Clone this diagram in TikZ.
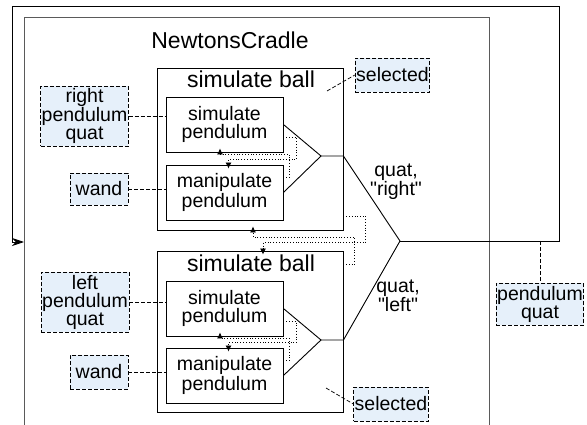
\documentclass[tikz,border=0pt]{standalone}
\usepackage{fontspec}
\setmainfont{Liberation Sans}[Ligatures=TeXOff]
\usetikzlibrary{arrows.meta,calc}
\definecolor{softfill}{RGB}{230,240,250}
\definecolor{framegray}{RGB}{90,90,90}

\begin{document}
\begin{tikzpicture}[x=1pt,y=-1pt,
  every node/.style={font=\fontsize{19.5}{18}\selectfont,align=center},
  block/.style={draw,line width=0.9pt,inner sep=1pt},
  param/.style={draw,dash pattern=on 4pt off 2pt,fill=softfill,line width=0.7pt,inner sep=1pt},
  link/.style={dash pattern=on 4pt off 2pt,line width=0.7pt},
  flow/.style={dotted,line width=0.8pt,-{Latex[length=6pt,width=6pt,sep=0pt]},shorten >=-4pt},
  heading/.style={font=\fontsize{23}{24}\selectfont},
  note/.style={font=\fontsize{19.5}{16}\selectfont}]
\useasboundingbox (0,0) rectangle (587,425);
\clip (0,0) rectangle (587,425);

% NewtonsCradle frame
\node[draw=framegray,line width=0.9pt,anchor=north west,minimum width=465pt,minimum height=440pt] (cradle) at (24,17) {};
\node[heading,anchor=base] (cradletitle) at (230,49) {NewtonsCradle};
\coordinate (join) at (400,241);

% Top ball
\node[block,minimum width=186pt,minimum height=162pt] (ball1) at (250,149) {};
\node[heading,anchor=base] (balltitle1) at (251,88) {simulate ball};
\node[block,minimum width=117pt,minimum height=55pt] (sp1) at (224.5,124.5) {simulate\\pendulum};
\node[block,minimum width=117pt,minimum height=55pt] (mp1) at (224.5,192.5) {manipulate\\pendulum};
\coordinate (apex1) at (321,156);
\draw[line width=0.9pt] (sp1.east) -- (apex1) -- (mp1.east);
\draw[line width=0.9pt] (apex1) -- (apex1 -| ball1.east) -- (join);
\draw[flow] ([yshift=-13pt]sp1.east) -- ++(13,0) |- ([xshift=4pt,yshift=5pt]mp1.north) -- ([xshift=4pt]mp1.north);
\draw[flow] ([yshift=15pt]mp1.east) -- ++(6,0) |- ([xshift=-4.5pt,yshift=-2pt]sp1.south) -- ([xshift=-4.5pt]sp1.south);

% Bottom ball
\node[block,minimum width=186pt,minimum height=161pt] (ball2) at (250,331.5) {};
\node[heading,anchor=base] (balltitle2) at (251,272) {simulate ball};
\node[block,minimum width=117pt,minimum height=55pt] (sp2) at (224.5,308.5) {simulate\\pendulum};
\node[block,minimum width=117pt,minimum height=55pt] (mp2) at (224.5,375.5) {manipulate\\pendulum};
\coordinate (apex2) at (321,340);
\draw[line width=0.9pt] (sp2.east) -- (apex2) -- (mp2.east);
\draw[line width=0.9pt] (apex2) -- (apex2 -| ball2.east) -- (join);
\draw[flow] ([yshift=-13pt]sp2.east) -- ++(13,0) |- ([xshift=4pt,yshift=5pt]mp2.north) -- ([xshift=4pt]mp2.north);
\draw[flow] ([yshift=15pt]mp2.east) -- ++(6,0) |- ([xshift=-4.5pt,yshift=-2pt]sp2.south) -- ([xshift=-4.5pt]sp2.south);

% between the balls
\draw[flow] ([yshift=-67pt]ball1.east) -- ++(22,0) |- ([xshift=13pt,yshift=8pt]ball2.north) -- ([xshift=13pt]ball2.north);
\draw[flow] ([yshift=67pt]ball2.east) -- ++(11,0) |- ([xshift=3pt,yshift=-7pt]ball1.south) -- ([xshift=3pt]ball1.south);

% parameters
\node[param,minimum width=87pt,minimum height=60pt] (rpq) at (84.5,116) {right\\pendulum\\quat};
\node[param,minimum width=58pt,minimum height=32pt] (wand1) at (99,189) {wand};
\node[param,minimum width=88pt,minimum height=60pt] (lpq) at (85,302) {left\\pendulum\\quat};
\node[param,minimum width=58pt,minimum height=34pt] (wand2) at (99,372) {wand};
\node[param,minimum width=73pt,minimum height=34pt] (sel1) at (392.5,75) {selected};
\node[param,minimum width=74pt,minimum height=34pt] (sel2) at (391,404) {selected};
\node[param,minimum width=84pt,minimum height=42pt] (pq) at (540,304) {pendulum\\quat};
\draw[link] (rpq.east) -- (rpq.east -| sp1.west);
\draw[link] (wand1.east) -- (wand1.east -| mp1.west);
\draw[link] (lpq.east) -- (lpq.east -| sp2.west);
\draw[link] (wand2.east) -- (wand2.east -| mp2.west);
\coordinate (selpt1) at (327,91);
\coordinate (selpt2) at (326,388);
\draw[link] (selpt1) -- (sel1.west);
\draw[link] (selpt2) -- (sel2.west);
\draw[link] (pq.north |- join) -- (pq.north);

% feedback
\coordinate (fbtop) at (559,6);
\coordinate (fbleft) at (12,242);
\draw[line width=0.8pt,-{Stealth[length=12pt,width=8pt]}] (join) -| (fbtop) -| (fbleft) -- (fbleft -| cradle.west);

\node[note] (qright) at (396,182) {quat,\\"right"};
\node[note] (qleft) at (398,296) {quat,\\"left"};
\end{tikzpicture}
\end{document}
